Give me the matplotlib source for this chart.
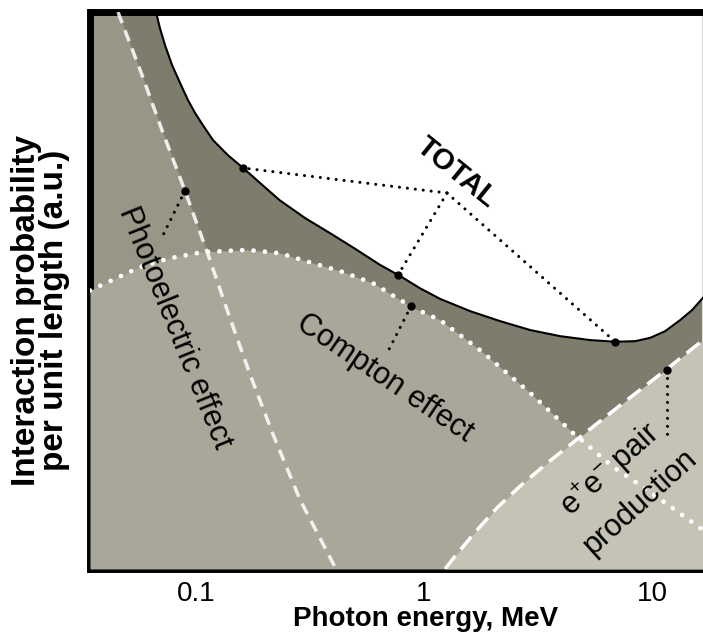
import matplotlib.pyplot as plt
from matplotlib.ticker import FixedLocator, FixedFormatter, NullLocator

plt.rcParams['font.family'] = ['Liberation Sans', 'DejaVu Sans']
plt.rcParams['mathtext.fontset'] = 'custom'
plt.rcParams['mathtext.rm'] = 'Liberation Sans'

# photon energy (MeV) vs interaction probability (a.u.)
total_e = [0.0668, 0.0695, 0.0731, 0.0785, 0.0851, 0.0922, 0.0990, 0.1084,
           0.1188, 0.138, 0.161, 0.191, 0.233, 0.301, 0.387, 0.498, 0.641,
           0.785, 0.960, 1.175, 1.591, 2.155, 2.918, 3.950, 5.346, 6.88,
           8.42, 9.80, 11.40, 13.27, 14.97, 16.7]
total_p = [1.0, 0.971, 0.941, 0.905, 0.873, 0.842, 0.819, 0.794,
           0.770, 0.743, 0.720, 0.693, 0.662, 0.630, 0.603, 0.575, 0.546,
           0.526, 0.504, 0.485, 0.463, 0.445, 0.429, 0.418, 0.411, 0.408,
           0.409, 0.415, 0.427, 0.447, 0.465, 0.487]

compton_e = [0.0343, 0.0568, 0.0769, 0.107, 0.167, 0.233, 0.326, 0.428, 0.598,
             0.895, 1.175, 1.76, 2.92, 4.50, 6.75, 9.51, 16.7]
compton_p = [0.500, 0.542, 0.558, 0.569, 0.573, 0.567, 0.549, 0.535, 0.513,
             0.469, 0.447, 0.393, 0.316, 0.244, 0.183, 0.142, 0.070]

pe_e = [0.0455, 0.0574, 0.0717, 0.0895, 0.112, 0.138, 0.173, 0.218, 0.286, 0.411]
pe_p = [1.0, 0.892, 0.783, 0.679, 0.569, 0.461, 0.348, 0.241, 0.124, 0.0]

pair_e = [1.236, 1.367, 1.674, 2.09, 2.64, 3.46, 4.83, 7.24, 11.6, 16.7]
pair_p = [0.0, 0.023, 0.066, 0.110, 0.149, 0.190, 0.237, 0.294, 0.359, 0.411]

ticks = [0.1, 1, 10]
tick_labels = ['0.1', '1', '10']
e_min, e_max = 0.0343, 16.7

dark = '#7e7c6d'
pe_col = '#989687'
compton_col = '#a9a799'
pair_col = '#c4c3b5'

fig = plt.figure(figsize=(7.03, 6.35), dpi=100)
ax = fig.add_axes([0.128, 0.104, 0.872, 0.877])
ax.set_facecolor(dark)
ax.set_xscale('log')
ax.set_xlim(e_min, e_max)
ax.set_ylim(0, 1)

# fills
ax.fill_between(total_e, total_p, 1.0, color='white', lw=0, zorder=1)
ax.fill_betweenx(pe_p, e_min, pe_e, color=pe_col, lw=0, zorder=2)
ax.fill_between(compton_e, 0, compton_p, color=compton_col, lw=0, zorder=3)
ax.fill_between(pair_e, 0, pair_p, color=pair_col, lw=0, zorder=4)

# curves
ax.plot(total_e, total_p, color='black', lw=1.5, zorder=6)
ax.plot(compton_e, compton_p, color='white', lw=3.4, ls=(0, (0.01, 2.4)),
        dash_capstyle='round', zorder=5)
ax.plot(pe_e, pe_p, color='white', lw=2.5, ls=(0, (3.4, 2.2)), alpha=0.85, zorder=5)
ax.plot(pair_e, pair_p, color='white', lw=2.5, ls=(0, (4.8, 2.4)), zorder=5)

# leader lines
dot_ls = (0, (0.01, 2.6))
hub = (1.26, 0.675)
for e, p in [(0.161, 0.720), (0.769, 0.528), (6.88, 0.408)]:
    ax.plot([hub[0], e], [hub[1], p], color='black', lw=2.2, ls=dot_ls,
            dash_capstyle='round', zorder=7)
    ax.plot(e, p, 'o', color='black', ms=5, zorder=8)
ax.plot([0.0895, 0.071], [0.679, 0.596], color='black', lw=2.2, ls=dot_ls,
        dash_capstyle='round', zorder=7)
ax.plot(0.0895, 0.679, 'o', color='black', ms=5, zorder=8)
ax.plot([0.877, 0.681], [0.472, 0.384], color='black', lw=2.2, ls=dot_ls,
        dash_capstyle='round', zorder=7)
ax.plot(0.877, 0.472, 'o', color='black', ms=5, zorder=8)
ax.plot([11.6, 11.6], [0.357, 0.237], color='black', lw=2.2, ls=dot_ls,
        dash_capstyle='round', zorder=7)
ax.plot(11.6, 0.357, 'o', color='black', ms=5, zorder=8)

# labels
ax.text(1.38, 0.711, 'TOTAL', fontsize=21, fontweight='bold', rotation=-39,
        ha='center', va='center', rotation_mode='anchor', zorder=9)
ax.text(0.0809, 0.433, 'Photoelectric effect', fontsize=22, rotation=-68,
        ha='center', va='center', rotation_mode='anchor', zorder=9)
ax.text(0.675, 0.343, 'Compton effect', fontsize=22, rotation=-34,
        ha='center', va='center', rotation_mode='anchor', zorder=9)
ax.text(6.54, 0.178, r'e$^{+}$e$^{-}$ pair', fontsize=22, rotation=42,
        ha='center', va='center', rotation_mode='anchor', zorder=9)
ax.text(8.86, 0.120, 'production', fontsize=22, rotation=42,
        ha='center', va='center', rotation_mode='anchor', zorder=9)

# axes styling
for side in ['left', 'top', 'bottom']:
    ax.spines[side].set_linewidth(5)
    ax.spines[side].set_color('black')
ax.spines['right'].set_linewidth(1.5)
ax.spines['right'].set_color('#dcdcd4')

ax.xaxis.set_major_locator(FixedLocator(ticks))
ax.xaxis.set_major_formatter(FixedFormatter(tick_labels))
ax.xaxis.set_minor_locator(NullLocator())
ax.tick_params(axis='x', which='major', direction='in', length=11, width=1.5,
               labelsize=20, pad=9)
ax.tick_params(axis='y', left=False, labelleft=False)

ax.set_xlabel('Photon energy, MeV', fontsize=20, fontweight='bold')
ax.xaxis.set_label_coords(0.547, -0.066)
ax.set_ylabel('Interaction probability\nper unit length (a.u.)', fontsize=24,
              fontweight='bold', linespacing=0.85)
ax.yaxis.set_label_coords(-0.033, 0.465)

fig.savefig('out.png', dpi=100)
